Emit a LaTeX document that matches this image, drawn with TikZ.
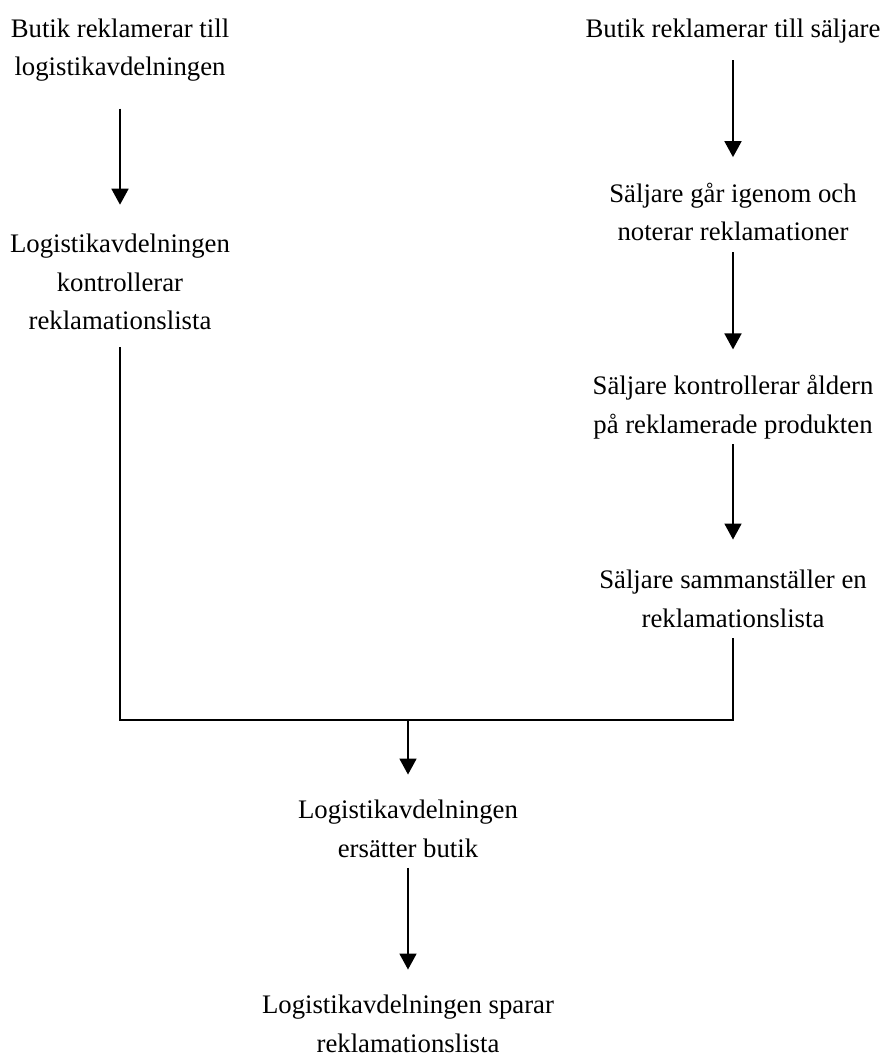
\documentclass[tikz,border=0pt]{standalone}
\usepackage{fontspec}
\setmainfont{Liberation Serif}
\usetikzlibrary{arrows.meta}
\begin{document}
\begin{tikzpicture}[x=1pt,y=1pt,
  step text/.style={align=center,inner sep=0pt,
    font=\fontsize{26.75pt}{38.7pt}\selectfont},
  flow/.style={line width=1.8pt},
  arr/.style={flow,-{Triangle[width=17pt,length=16pt]}}]
\useasboundingbox (0,0) rectangle (884,-1061);

% left branch
\node[step text] (tl) at (120,-50) {Butik reklamerar till\\logistikavdelningen};
\node[step text] (ll) at (120,-282) {Logistikavdelningen\\kontrollerar\\reklamationslista};

% right branch
\node[step text] (tr) at (733,-31) {Butik reklamerar till säljare};
\node[step text] (r1) at (733,-212) {Säljare går igenom och\\noterar reklamationer};
\node[step text] (r2) at (733,-407) {Säljare kontrollerar åldern\\på reklamerade produkten};
\node[step text] (r3) at (733,-599) {Säljare sammanställer en\\reklamationslista};

% merged steps
\node[step text] (m1) at (408,-829) {Logistikavdelningen\\ersätter butik};
\node[step text] (m2) at (408,-1024) {Logistikavdelningen sparar\\reklamationslista};

\coordinate (j) at (408,-720);

\draw[arr] ([yshift=-27pt]tl.south) -- ([yshift=29pt]ll.north);
\draw[arr] ([yshift=-17pt]tr.south) -- ([yshift=25.5pt]r1.north);
\draw[arr] ([yshift=-11pt]r1.south) -- ([yshift=25.5pt]r2.north);
\draw[arr] ([yshift=-5pt]r2.south) -- ([yshift=30.5pt]r3.north);

\draw[flow] ([yshift=-17pt]ll.south) -- (ll.south |- j) -- (r3.south |- j) -- ([yshift=-10pt]r3.south);
\draw[arr] (j) -- ([yshift=25.5pt]m1.north);
\draw[arr] ([yshift=-10pt]m1.south) -- ([yshift=25.5pt]m2.north);
\end{tikzpicture}
\end{document}
